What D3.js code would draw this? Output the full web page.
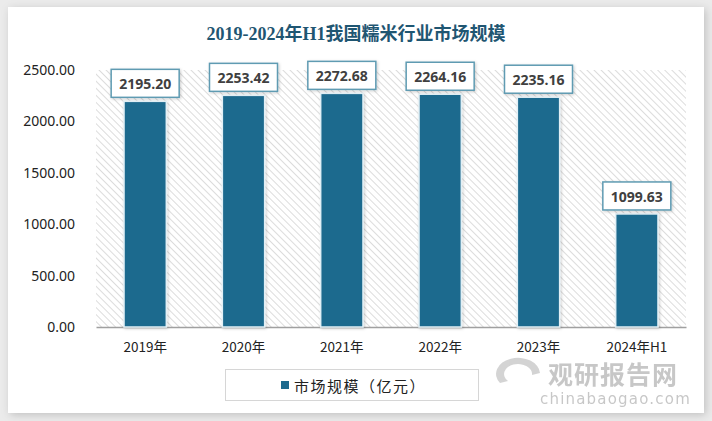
<!DOCTYPE html>
<html><head><meta charset="utf-8">
<script src="https://cdn.jsdelivr.net/npm/d3@7/dist/d3.min.js"></script>
<style>body{margin:0;background:#fff;}svg{display:block;}</style>
</head><body>
<svg id="c" width="712" height="421"></svg>
<script>
const categories = ["2019年","2020年","2021年","2022年","2023年","2024年H1"];
const values = [2195.20, 2253.42, 2272.68, 2264.16, 2235.16, 1099.63];
const yTicks = [0, 500, 1000, 1500, 2000, 2500];
const seriesName = "市场规模（亿元）";
const title = "2019-2024年H1我国糯米行业市场规模";

const svg = d3.select("#c");
const defs = svg.append("defs");
const f = defs.append("filter").attr("id","sh").attr("x","-5%").attr("y","-5%").attr("width","110%").attr("height","110%");
f.append("feGaussianBlur").attr("in","SourceAlpha").attr("stdDeviation",4);
f.append("feOffset").attr("dx",2).attr("dy",2).attr("result","b");
f.append("feFlood").attr("flood-color","#000").attr("flood-opacity",0.18);
f.append("feComposite").attr("in2","b").attr("operator","in");
const m = f.append("feMerge"); m.append("feMergeNode"); m.append("feMergeNode").attr("in","SourceGraphic");

const pat = defs.append("pattern").attr("id","hatch").attr("patternUnits","userSpaceOnUse")
  .attr("width",5).attr("height",5).attr("patternTransform","rotate(-45)");
pat.append("rect").attr("width",5).attr("height",5).attr("fill","#fff");
pat.append("line").attr("x1",0).attr("y1",0).attr("x2",0).attr("y2",5).attr("stroke","#d4d4d4").attr("stroke-width",1.6);

const bs = defs.append("filter").attr("id","bs").attr("x","-20%").attr("y","-20%").attr("width","140%").attr("height","140%");
bs.append("feGaussianBlur").attr("in","SourceAlpha").attr("stdDeviation",1.5);
bs.append("feOffset").attr("dx",1).attr("dy",1).attr("result","b");
bs.append("feFlood").attr("flood-color","#000").attr("flood-opacity",0.2);
bs.append("feComposite").attr("in2","b").attr("operator","in");
const m2 = bs.append("feMerge"); m2.append("feMergeNode"); m2.append("feMergeNode").attr("in","SourceGraphic");

svg.append("rect").attr("width",712).attr("height",421).attr("fill","#ebebeb");
svg.append("rect").attr("x",8).attr("y",7).attr("width",696).attr("height",406).attr("fill","#fff").attr("filter","url(#sh)");

const L = 96, R = 686, T = 70, B = 327;
const x = d3.scaleBand().domain(categories).range([L,R]).paddingInner(0.57).paddingOuter(0.285);
const y = d3.scaleLinear().domain([0,2500]).range([B,T]);

svg.append("rect").attr("x",L).attr("y",T).attr("width",R-L).attr("height",B-T).attr("fill","url(#hatch)");

svg.append("text").attr("x",356).attr("y",40).attr("text-anchor","middle")
  .attr("font-family","'Liberation Serif','Noto Sans CJK SC',serif").attr("font-weight","bold")
  .attr("font-size",18).attr("fill","#1f5672").text(title);

const yAxis = svg.append("g").attr("transform",`translate(${L},0)`)
  .call(d3.axisLeft(y).tickValues(yTicks).tickFormat(d3.format(".2f")).tickSize(0).tickPadding(21));
yAxis.select(".domain").remove();
yAxis.selectAll("text").attr("font-family","'Noto Sans','DejaVu Sans',sans-serif").attr("font-size",14).attr("fill","#222");

const xAxis = svg.append("g").attr("transform",`translate(0,${B})`)
  .call(d3.axisBottom(x).tickSize(0).tickPadding(15));
xAxis.select(".domain").attr("stroke","#a0a0a0").attr("stroke-width",1.5);
xAxis.selectAll("text").attr("font-family","'Noto Sans CJK SC','Noto Sans',sans-serif").attr("font-size",13.5).attr("fill","#222");

svg.append("g").selectAll("rect").data(values).join("rect")
  .attr("x",(d,i)=>x(categories[i])).attr("y",d=>y(d))
  .attr("width",x.bandwidth()).attr("height",d=>B-y(d))
  .attr("fill","#1d6a8e").attr("stroke","#e2f0f6").attr("stroke-width",1.5).attr("filter","url(#bs)");

const lab = svg.append("g").selectAll("g").data(values).join("g")
  .attr("transform",(d,i)=>`translate(${x(categories[i])+x.bandwidth()/2},${y(d)-4})`);
lab.append("rect").attr("x",-34).attr("y",-28).attr("width",68).attr("height",28)
  .attr("fill","#fff").attr("stroke","#5f9bb2").attr("stroke-width",1.5).attr("filter","url(#bs)");
lab.append("text").attr("y",-8).attr("text-anchor","middle")
  .attr("font-family","'Open Sans','Noto Sans',sans-serif").attr("font-weight","bold")
  .attr("font-size",14).attr("fill","#404040").text(d=>d3.format(".2f")(d));

// watermark
const wm = svg.append("g").attr("opacity",0.55);
wm.append("path").attr("d","M500,383 a22,16 0 1,1 40,-10 l-8,2 a14,10 0 1,0 -24,6 z").attr("fill","#b0b0b0");
wm.append("text").attr("x",548).attr("y",384).attr("font-family","'Noto Sans CJK SC',sans-serif")
  .attr("font-weight","bold").attr("font-size",25).attr("fill","#9a9a9a").attr("letter-spacing",1).text("观研报告网");
wm.append("text").attr("x",540).attr("y",404).attr("font-family","'DejaVu Sans',sans-serif")
  .attr("font-size",15).attr("fill","#9a9a9a").attr("letter-spacing",1.2).text("chinabaogao.com");

// legend
const lg = svg.append("g");
lg.append("rect").attr("x",225.5).attr("y",369.5).attr("width",253).attr("height",31).attr("fill","#fff").attr("stroke","#d6d6d6");
lg.append("rect").attr("x",281).attr("y",381).attr("width",8).attr("height",8).attr("fill","#1d6a8e");
lg.append("text").attr("x",294).attr("y",392).attr("font-family","'Noto Sans CJK SC',sans-serif")
  .attr("font-size",15).attr("letter-spacing",1.5).attr("fill","#222").text(seriesName);
</script>
</body></html>
